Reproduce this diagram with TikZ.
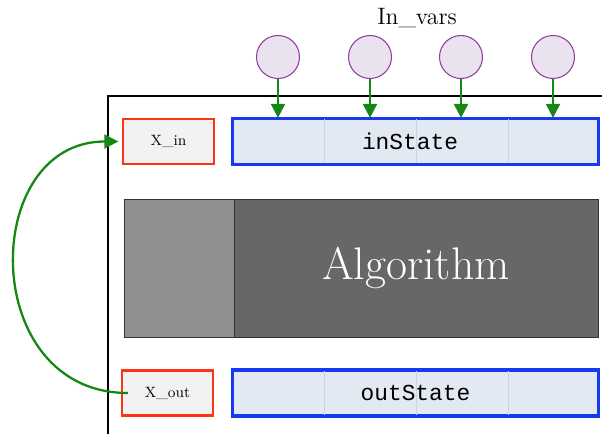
\documentclass[tikz,border=0pt]{standalone}
\usepackage{fontspec}
\newfontfamily\statefont{Liberation Mono}
\usepackage{tikz}
\usetikzlibrary{arrows.meta}
\definecolor{boxred}{RGB}{250,52,20}
\definecolor{boxgrey}{RGB}{242,242,242}
\definecolor{stateblue}{RGB}{22,58,240}
\definecolor{statefill}{RGB}{226,233,242}
\definecolor{cellline}{RGB}{196,214,234}
\definecolor{varfill}{RGB}{235,226,240}
\definecolor{varline}{RGB}{140,60,155}
\definecolor{flowgreen}{RGB}{20,135,20}
\definecolor{alglight}{RGB}{143,143,143}
\definecolor{algdark}{RGB}{103,103,103}
\tikzset{
    varnode/.style={circle, fill=varfill, draw=varline, line width=0.6pt,
    	minimum size=0.86cm, inner sep=0pt}
}
\tikzset{
    regbox/.style={rectangle, fill=boxgrey, draw=boxred, line width=1.3pt,
    	minimum width=1.82cm, minimum height=0.9cm, font=\fontsize{8.5}{10}\selectfont}
}
\tikzset{
    statebox/.style={rectangle, fill=statefill, draw=stateblue, line width=1.3pt,
    	minimum width=7.3cm, minimum height=0.9cm, font=\statefont\fontsize{13}{15}\selectfont}
}
\tikzset{
    algbox/.style={rectangle, draw=black!80, line width=0.5pt,
    	minimum height=2.76cm, inner sep=0pt}
}
\tikzset{
    flow/.style={draw=flowgreen, line width=1.3pt,
    	-{Triangle[length=8pt,width=8pt]}}
}

\begin{document}
\begin{tikzpicture}
	\clip (0,0) rectangle (12.04,8.66);
	% frame
	\draw[line width=1.3pt] (12.5,6.74) -- (2.16,6.74) -- (2.16,-0.5);

	\node (invars) [font=\fontsize{13.5}{16}\selectfont] at (8.34,8.30) {In\_vars};
	\node (v1) [varnode] at ( 5.56,7.52) {};
	\node (v2) [varnode] at ( 7.40,7.52) {};
	\node (v3) [varnode] at ( 9.22,7.52) {};
	\node (v4) [varnode] at (11.06,7.52) {};

	\node (xin) [regbox] at (3.37,5.83) {X\_in};
	\node (instate) [statebox] at (8.31,5.83) {};
	\draw[cellline, line width=0.5pt] (6.48,5.39) -- (6.48,6.27)
		(8.32,5.39) -- (8.32,6.27) (10.16,5.39) -- (10.16,6.27);
	\draw[stateblue, line width=1.3pt] (instate.south west) rectangle (instate.north east);
	\node at (8.2,5.83) [font=\statefont\fontsize{13}{15}\selectfont] {inState};

	\node (algleft) [algbox, fill=alglight, minimum width=2.2cm] at (3.58,3.30) {};
	\node (alg) [algbox, fill=algdark, minimum width=7.28cm, text=white,
		font=\fontsize{26}{30}\selectfont] at (8.32,3.30) {Algorithm};

	\node (xout) [regbox] at (3.35,0.80) {X\_out};
	\node (outstate) [statebox] at (8.31,0.80) {};
	\draw[cellline, line width=0.5pt] (6.48,0.36) -- (6.48,1.24)
		(8.32,0.36) -- (8.32,1.24) (10.16,0.36) -- (10.16,1.24);
	\draw[stateblue, line width=1.3pt] (outstate.south west) rectangle (outstate.north east);
	\node at (outstate) [font=\statefont\fontsize{13}{15}\selectfont] {outState};

	\draw[flow] (v1) -- (v1 |- instate.north);
	\draw[flow] (v2) -- (v2 |- instate.north);
	\draw[flow] (v3) -- (v3 |- instate.north);
	\draw[flow] (v4) -- (v4 |- instate.north);

	\draw[flow, shorten <=-4pt, shorten >=2pt] (xout) to[out=180, in=180, looseness=1.45] (xin);
\end{tikzpicture}
\end{document}
